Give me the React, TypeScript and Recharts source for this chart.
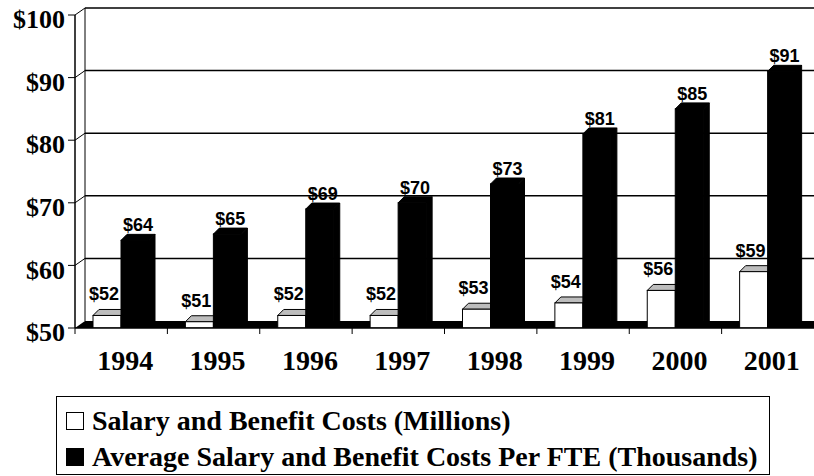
import React from 'react';
import { BarChart, Bar, XAxis, YAxis, CartesianGrid, Legend, LabelList } from 'recharts';

const years = ['1994', '1995', '1996', '1997', '1998', '1999', '2000', '2001'];
const salaryCosts = [52, 51, 52, 52, 53, 54, 56, 59];
const avgCostPerFte = [64, 65, 69, 70, 73, 81, 85, 91];
const yTicks = [50, 60, 70, 80, 90, 100];
const seriesNames = [
  'Salary and Benefit Costs (Millions)',
  'Average Salary and Benefit Costs Per FTE (Thousands)',
];

const data = years.map((year, i) => ({
  year,
  salary: salaryCosts[i],
  perFte: avgCostPerFte[i],
}));

const SERIF = '"Liberation Serif", "Times New Roman", serif';
const SANS = '"Liberation Sans", Arial, sans-serif';
const DEPTH = 6;
const WALL_DX = 10;
const WALL_DY = 7;
const PLOT_TOP = 15;
const PLOT_BOTTOM = 328;

// 3D-ish bar: front face, top face and right side
const Bar3D = (props: any) => {
  const { x, y, width, height, fill } = props;
  if (!height || height <= 0) return null;
  const d = DEPTH;
  const dark = fill === '#000';
  return (
    <g>
      <polygon
        points={`${x + width},${y} ${x + width + d},${y - d} ${x + width + d},${y + height - d} ${x + width},${y + height}`}
        fill={dark ? '#000' : '#fff'}
        stroke="#000"
        strokeWidth={1}
      />
      <polygon
        points={`${x},${y} ${x + d},${y - d} ${x + width + d},${y - d} ${x + width},${y}`}
        fill={dark ? '#000' : '#bdbdbd'}
        stroke="#000"
        strokeWidth={1}
      />
      <rect x={x} y={y} width={width} height={height} fill={fill} stroke="#000" strokeWidth={1} />
    </g>
  );
};

const makeLabel = (dx: number, gap: number) => (props: any) => {
  const { x, y, width, value } = props;
  return (
    <text
      x={Number(x) + Number(width) / 2 + dx}
      y={Number(y) - DEPTH - gap}
      textAnchor="middle"
      fontFamily={SANS}
      fontWeight="bold"
      fontSize={18}
      fill="#000"
    >
      ${value}
    </text>
  );
};

const gridLine = (props: any) => {
  const { x1, x2, y1, index } = props;
  const bx = x1 + WALL_DX;
  const by = y1 - WALL_DY;
  if (Math.abs(y1 - PLOT_BOTTOM) < 1) {
    return (
      <polygon
        key={`g-${index}`}
        points={`${x1},${y1} ${bx},${by} ${x2},${by} ${x2},${y1}`}
        fill="#000"
      />
    );
  }
  return (
    <g key={`g-${index}`}>
      <line x1={bx} y1={by} x2={x2} y2={by} stroke="#000" strokeWidth={1.5} />
      <line x1={x1} y1={y1} x2={bx} y2={by} stroke="#000" strokeWidth={1} />
      {Math.abs(y1 - PLOT_TOP) < 1 && (
        <line x1={bx} y1={by} x2={bx} y2={PLOT_BOTTOM - WALL_DY} stroke="#000" strokeWidth={1} />
      )}
    </g>
  );
};

const YTick = (props: any) => {
  const { x, y, payload } = props;
  return (
    <text
      x={x}
      y={y + 4}
      dy="0.35em"
      textAnchor="end"
      fontFamily={SERIF}
      fontWeight="bold"
      fontSize={26}
      fill="#000"
    >
      ${payload.value}
    </text>
  );
};

const XTick = (props: any) => {
  const { x, payload } = props;
  const half = payload.offset || 46;
  return (
    <g>
      <line x1={x - half} y1={PLOT_BOTTOM} x2={x - half} y2={PLOT_BOTTOM + 6} stroke="#000" />
      <text
        x={x + 4}
        y={PLOT_BOTTOM + 42}
        textAnchor="middle"
        fontFamily={SERIF}
        fontWeight="bold"
        fontSize={28}
        fill="#000"
      >
        {payload.value}
      </text>
    </g>
  );
};

const LegendBox = (props: any) => {
  const payload = props.payload || [];
  const items = seriesNames
    .map((name) => payload.find((p: any) => p.value === name))
    .filter(Boolean);
  return (
    <div
      style={{
        border: '1px solid #000',
        boxSizing: 'border-box',
        width: 714,
        height: 79,
        paddingTop: 6,
        paddingLeft: 9,
        fontFamily: SERIF,
        fontWeight: 'bold',
        fontSize: 28,
        color: '#000',
        background: '#fff',
      }}
    >
      {items.map((item: any) => (
        <div key={item.value} style={{ display: 'flex', alignItems: 'center', height: 36, whiteSpace: 'nowrap' }}>
          <span
            style={{
              display: 'inline-block',
              width: 18,
              height: 18,
              boxSizing: 'border-box',
              border: '1px solid #000',
              background: item.color,
              marginRight: 8,
            }}
          />
          {item.value}
        </div>
      ))}
    </div>
  );
};

export default function App() {
  return (
    <div style={{ width: 814, height: 476, background: '#fff' }}>
      <style>{'body{margin:0}'}</style>
      <BarChart
        width={814}
        height={476}
        data={data}
        margin={{ top: PLOT_TOP, right: 0, bottom: 0, left: 0 }}
        barGap={0}
        barSize={28}
      >
        <CartesianGrid vertical={false} horizontal={gridLine} />
        <XAxis
          dataKey="year"
          height={476 - PLOT_BOTTOM}
          axisLine={{ stroke: '#000', strokeWidth: 1.5 }}
          tickLine={false}
          tick={<XTick />}
          interval={0}
        />
        <YAxis
          width={75}
          domain={[50, 100]}
          ticks={yTicks}
          allowDataOverflow
          axisLine={{ stroke: '#000', strokeWidth: 1.5 }}
          tickLine={{ stroke: '#000' }}
          tickSize={7}
          tickMargin={3}
          tick={<YTick />}
        />
        <Legend
          layout="horizontal"
          verticalAlign="middle"
          align="center"
          content={<LegendBox />}
          wrapperStyle={{ left: 56, top: 396, width: 714 }}
        />
        <Bar
          dataKey="salary"
          name={seriesNames[0]}
          fill="#fff"
          shape={<Bar3D />}
          isAnimationActive={false}
        >
          <LabelList dataKey="salary" content={makeLabel(-3, 9)} />
        </Bar>
        <Bar
          dataKey="perFte"
          name={seriesNames[1]}
          fill="#000"
          shape={<Bar3D />}
          isAnimationActive={false}
        >
          <LabelList dataKey="perFte" content={makeLabel(3, 3)} />
        </Bar>
      </BarChart>
    </div>
  );
}
